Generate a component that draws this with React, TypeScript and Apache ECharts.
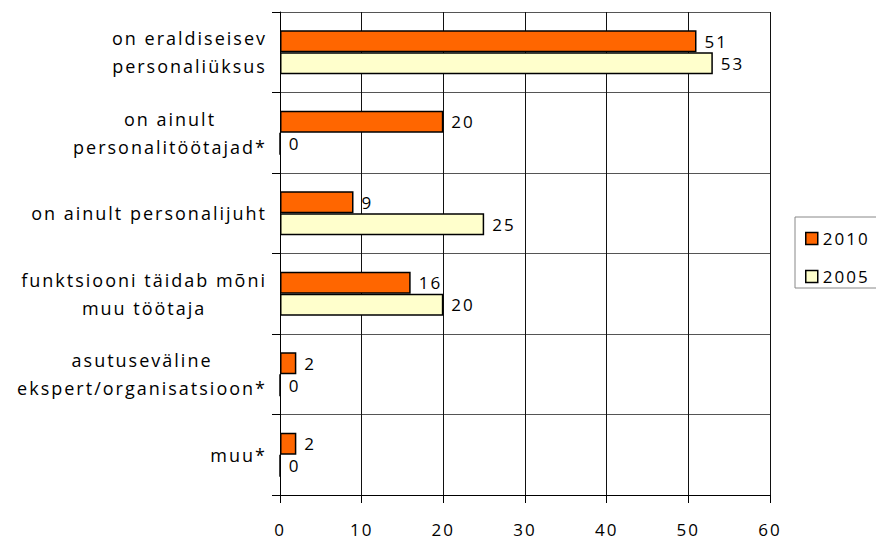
import React, { useEffect, useRef } from "react";
import * as echarts from "echarts";

// Survey answers, percent of respondents
const categories = [
  "on eraldiseisev\npersonaliüksus",
  "on ainult\npersonalitöötajad*",
  "on ainult personalijuht",
  "funktsiooni täidab mõni\nmuu töötaja",
  "asutuseväline\nekspert/organisatsioon*",
  "muu*",
];
const seriesNames = ["2010", "2005"];
const values2010 = [51, 20, 9, 16, 2, 2];
const values2005 = [53, 0, 25, 20, 0, 0];
const xMin = 0;
const xMax = 60;
const xStep = 10;

const FONT = "'Open Sans'";
const LETTER_SPACING = 2;
const CAT_FONT_SIZE = 18;

// Widest line of each category label, including the letter spacing set on the container
function labelBlockWidths(): number[] {
  const canvas = document.createElement("canvas");
  const ctx = canvas.getContext("2d");
  return categories.map((c) => {
    const lines = c.split("\n");
    if (!ctx) return Math.max(...lines.map((l) => l.length * 10));
    ctx.font = `${CAT_FONT_SIZE}px ${FONT}`;
    return Math.max(
      ...lines.map((l) => ctx.measureText(l).width + l.length * LETTER_SPACING)
    );
  });
}

export default function App() {
  const ref = useRef<HTMLDivElement>(null);

  useEffect(() => {
    if (!ref.current) return;
    const chart = echarts.init(ref.current, undefined, { renderer: "svg" });
    const widths = labelBlockWidths();
    const rich: Record<string, any> = {};
    categories.forEach((_, i) => {
      rich[`c${i}`] = {
        width: widths[i],
        align: "center",
        fontSize: CAT_FONT_SIZE,
        fontFamily: FONT,
        lineHeight: 28,
        color: "#000",
      };
    });

    const barLabel = {
      show: true,
      position: "right" as const,
      distance: 8,
      fontSize: 17,
      fontFamily: FONT,
      color: "#000",
    };

    chart.setOption({
      animation: false,
      textStyle: { fontFamily: FONT, color: "#000" },
      grid: { left: 280, right: 106, top: 12, bottom: 47, containLabel: false },
      legend: {
        data: seriesNames,
        orient: "vertical",
        left: 795,
        top: 217,
        padding: [13, 24, 3, 10],
        itemGap: 21,
        itemWidth: 12,
        itemHeight: 12,
        icon: "rect",
        borderColor: "#888",
        borderWidth: 1,
        textStyle: { fontSize: 17, fontFamily: FONT, color: "#000" },
        itemStyle: { borderColor: "#000", borderWidth: 1.5 },
      },
      xAxis: {
        type: "value",
        min: xMin,
        max: xMax,
        interval: xStep,
        axisLine: { show: true, lineStyle: { color: "#000", width: 1 } },
        axisTick: { show: true, length: 8, lineStyle: { color: "#000" } },
        axisLabel: { fontSize: 17, fontFamily: FONT, color: "#000", margin: 26 },
        splitLine: { show: true, lineStyle: { color: "#111", width: 1 } },
      },
      yAxis: {
        type: "category",
        data: categories,
        inverse: true,
        axisLine: { show: true, lineStyle: { color: "#000", width: 1 } },
        axisTick: { show: true, length: 8, lineStyle: { color: "#000" } },
        splitLine: { show: true, lineStyle: { color: "#555", width: 1 } },
        axisLabel: {
          interval: 0,
          margin: 13,
          formatter: (value: string, index: number) =>
            value
              .split("\n")
              .map((l) => `{c${index}|${l}}`)
              .join("\n"),
          rich,
        },
      },
      series: [
        {
          name: seriesNames[0],
          type: "bar",
          data: values2010,
          barWidth: 22,
          barGap: "0%",
          itemStyle: { color: "#FF6600", borderColor: "#000", borderWidth: 1.5 },
          label: barLabel,
        },
        {
          name: seriesNames[1],
          type: "bar",
          data: values2005,
          barWidth: 22,
          barGap: "0%",
          itemStyle: { color: "#FFFFCC", borderColor: "#000", borderWidth: 1.5 },
          label: barLabel,
        },
      ],
    });
    return () => chart.dispose();
  }, []);

  return (
    <div
      ref={ref}
      style={{
        position: "fixed",
        left: 0,
        top: 0,
        width: 876,
        height: 542,
        letterSpacing: `${LETTER_SPACING}px`,
        background: "#fff",
      }}
    />
  );
}
